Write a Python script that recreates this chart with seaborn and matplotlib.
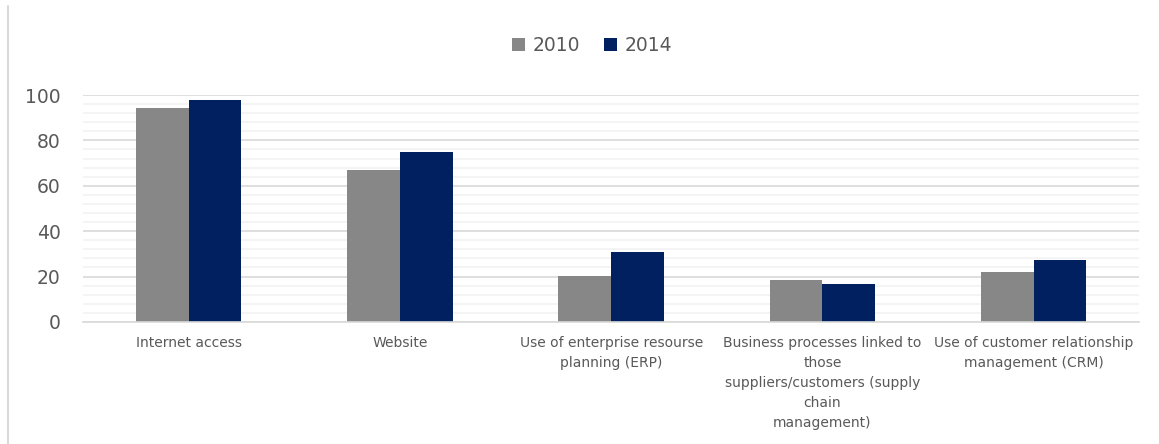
import matplotlib
matplotlib.use("Agg")
import matplotlib.pyplot as plt
from matplotlib.lines import Line2D
from matplotlib.ticker import MultipleLocator
import pandas as pd
import seaborn as sns

categories = [
    "Internet access",
    "Website",
    "Use of enterprise resourse\nplanning (ERP)",
    "Business processes linked to\nthose\nsuppliers/customers (supply\nchain\nmanagement)",
    "Use of customer relationship\nmanagement (CRM)",
]
years = ["2010", "2014"]
values_2010 = [94.3, 67.0, 20.3, 18.5, 22.0]
values_2014 = [97.8, 75.0, 31.0, 16.8, 27.4]
colors = {"2010": "#878787", "2014": "#002060"}

df = pd.DataFrame({
    "category": categories * 2,
    "year": [years[0]] * len(categories) + [years[1]] * len(categories),
    "value": values_2010 + values_2014,
})

sns.set_theme(style="white")
plt.rcParams["font.family"] = ["DejaVu Sans"]

fig = plt.figure(figsize=(11.59, 4.44), dpi=100)
ax = fig.add_axes([0.0716, 0.275, 0.9114, 0.511])

sns.barplot(data=df, x="category", y="value", hue="year", order=categories,
            hue_order=years, palette=colors, width=0.5, saturation=1,
            linewidth=0, ax=ax, legend=True)

ax.set_ylim(0, 100)
ax.set_xlim(-0.5, len(categories) - 0.5)
ax.yaxis.set_major_locator(MultipleLocator(20))
ax.yaxis.set_minor_locator(MultipleLocator(4))
ax.grid(axis="y", which="major", color="#d9d9d9", linewidth=1.2)
ax.grid(axis="y", which="minor", color="#f2f2f2", linewidth=1.2)
ax.set_axisbelow(True)
for s in ["top", "right", "left"]:
    ax.spines[s].set_visible(False)
ax.spines["bottom"].set_color("#d9d9d9")
ax.spines["bottom"].set_linewidth(1.2)

ax.set_xlabel("")
ax.set_ylabel("")
ax.tick_params(axis="y", which="both", length=0, labelsize=13.5, labelcolor="#595959", pad=16)
ax.tick_params(axis="x", length=0, labelsize=10, labelcolor="#595959", pad=10)
for t in ax.get_yticklabels():
    t.set_horizontalalignment("right")
for t in ax.get_xticklabels():
    t.set_linespacing(1.55)

handles, labels = ax.get_legend_handles_labels()
ax.legend(handles, labels, loc="center", bbox_to_anchor=(0.511, 0.898), bbox_transform=fig.transFigure,
          ncol=2, frameon=False, fontsize=13.5, labelcolor="#595959",
          handlelength=0.7, handleheight=0.7, handletextpad=0.4, columnspacing=1.3)

fig.add_artist(Line2D([0.0065, 0.0065], [0.0, 0.987], transform=fig.transFigure,
                      color="#d9d9d9", linewidth=1.5))

fig.savefig("out.png", dpi=100, facecolor="white")
